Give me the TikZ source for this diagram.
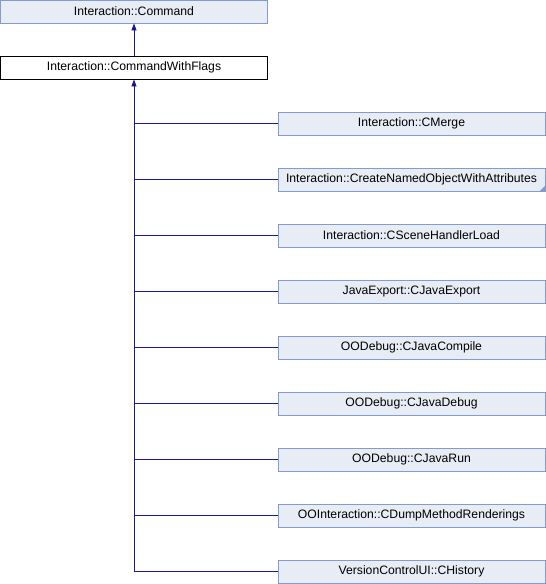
\documentclass[tikz,border=0pt]{standalone}
\usepackage{fontspec}
\setmainfont{Liberation Sans}
\usetikzlibrary{arrows.meta}
\definecolor{boxfill}{HTML}{E8ECF4}
\definecolor{boxdraw}{HTML}{849CCC}
\definecolor{edge}{HTML}{1A1A8C}
\begin{document}
\begin{tikzpicture}[x=1pt,y=-1pt,
  cls/.style={draw=boxdraw,fill=boxfill,minimum width=267pt,minimum height=23pt,inner sep=0pt,font=\fontsize{12.2}{14}\selectfont,line width=0.8pt},
  cur/.style={draw=black,fill=white,minimum width=267pt,minimum height=23pt,inner sep=0pt,font=\fontsize{12.2}{14}\selectfont,line width=0.8pt},
  inh/.style={draw=edge,line width=0.8pt,-{Triangle[width=5pt,length=7pt]}}]
\useasboundingbox (0,0) rectangle (546,584);
\node[cls] (cmd) at (134,11.5) {Interaction::Command};
\node[cur] (cwf) at (134,67.5) {Interaction::CommandWithFlags};
\draw[inh] (cwf.north) -- (cmd.south);
\node[cls] (c1) at (411.5,123.5) {Interaction::CMerge};
\node[cls] (c2) at (411.5,179.5) {Interaction::CreateNamedObjectWithAttributes};
\node[cls] (c3) at (411.5,235.5) {Interaction::CSceneHandlerLoad};
\node[cls] (c4) at (411.5,291.5) {JavaExport::CJavaExport};
\node[cls] (c5) at (411.5,347.5) {OODebug::CJavaCompile};
\node[cls] (c6) at (411.5,403.5) {OODebug::CJavaDebug};
\node[cls] (c7) at (411.5,459.5) {OODebug::CJavaRun};
\node[cls] (c8) at (411.5,515.5) {OOInteraction::CDumpMethodRenderings};
\node[cls] (c9) at (411.5,571.5) {VersionControlUI::CHistory};
\fill[boxdraw] (c2.south east) -- ++(-6,0) -- ++(6,-6) -- cycle;
\coordinate (j) at (134,571.5);
\draw[edge,line width=0.8pt] (c9.west) -- (j);
\draw[inh] (j) -- (cwf.south);
\foreach \i in {1,...,8}{
  \draw[edge,line width=0.8pt] (c\i.west) -- (134,0 |- c\i.west);
}
\end{tikzpicture}
\end{document}
